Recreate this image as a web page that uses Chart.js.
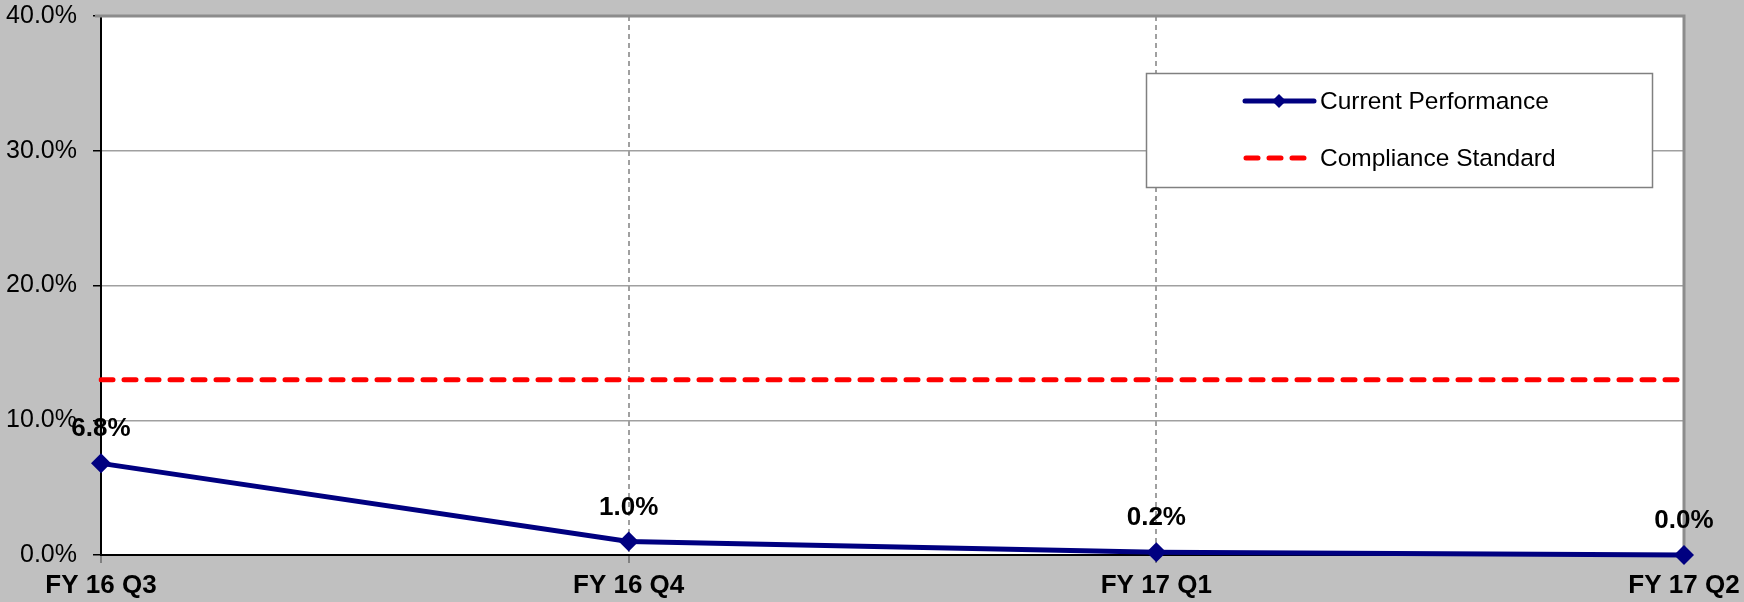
<!DOCTYPE html>
<html>
<head>
<meta charset="utf-8">
<script src="https://cdn.jsdelivr.net/npm/chart.js@4/dist/chart.umd.min.js"></script>
<style>
    html, body { margin: 0; padding: 0; background: #c0c0c0; }
    #wrap { width: 1744px; height: 602px; }
</style>
</head>
<body>
<div id="wrap"><canvas id="chart" width="1744" height="602"></canvas></div>
<script>
// 資料
const quarters = ['FY 16 Q3', 'FY 16 Q4', 'FY 17 Q1', 'FY 17 Q2'];
const currentPerformance = [6.8, 1.0, 0.2, 0.0];
const complianceStandard = [13.0, 13.0, 13.0, 13.0];
const yTicks = [0, 10, 20, 30, 40];

const seriesNames = ['Current Performance', 'Compliance Standard'];
const navy = '#000080';
const red = '#ff0000';

// 背景 (灰色外框、白色繪圖區)
const bgPlugin = {
    id: 'bg',
    beforeDraw: (chart) => {
        let ctx = chart.ctx;
        let a = chart.chartArea;
        ctx.save();
        ctx.fillStyle = '#c0c0c0';
        ctx.fillRect(0, 0, chart.width, chart.height);
        ctx.fillStyle = '#ffffff';
        ctx.fillRect(a.left, a.top, a.right - a.left, a.bottom - a.top);
        ctx.restore();
    },
    beforeDatasetsDraw: (chart) => {
        let ctx = chart.ctx;
        let a = chart.chartArea;
        ctx.save();
        ctx.strokeStyle = '#8c8c8c';
        ctx.lineWidth = 3;
        ctx.beginPath();
        ctx.moveTo(a.left - 6, a.top);
        ctx.lineTo(a.right, a.top);
        ctx.lineTo(a.right, a.bottom);
        ctx.stroke();
        ctx.restore();
    }
};

// 資料標籤
const labelPlugin = {
    id: 'valueLabels',
    afterDatasetsDraw: (chart) => {
        let ctx = chart.ctx;
        let meta = chart.getDatasetMeta(0);
        ctx.save();
        ctx.font = 'bold 26px "Liberation Sans", Arial, sans-serif';
        ctx.fillStyle = '#000';
        ctx.textAlign = 'center';
        ctx.textBaseline = 'alphabetic';
        meta.data.forEach((pt, i) => {
            ctx.fillText(currentPerformance[i].toFixed(1) + '%', pt.x, pt.y - 27);
        });
        ctx.restore();
    }
};

// 圖例 (Excel 樣式)
const legendPlugin = {
    id: 'boxLegend',
    afterDraw: (chart) => {
        let ctx = chart.ctx;
        let box = { x: 1146, y: 73, w: 506, h: 114 };
        ctx.save();
        ctx.fillStyle = '#ffffff';
        ctx.fillRect(box.x, box.y, box.w, box.h);
        ctx.strokeStyle = '#808080';
        ctx.lineWidth = 1.5;
        ctx.strokeRect(box.x + 0.5, box.y + 0.5, box.w, box.h);

        // Current Performance
        let y1 = 101;
        ctx.strokeStyle = navy;
        ctx.lineWidth = 5;
        ctx.lineCap = 'round';
        ctx.beginPath();
        ctx.moveTo(1245, y1);
        ctx.lineTo(1314, y1);
        ctx.stroke();
        ctx.fillStyle = navy;
        ctx.beginPath();
        ctx.moveTo(1279, y1 - 7);
        ctx.lineTo(1286, y1);
        ctx.lineTo(1279, y1 + 7);
        ctx.lineTo(1272, y1);
        ctx.closePath();
        ctx.fill();

        // Compliance Standard
        let y2 = 158;
        ctx.strokeStyle = red;
        ctx.setLineDash([12, 11]);
        ctx.beginPath();
        ctx.moveTo(1246, y2);
        ctx.lineTo(1306, y2);
        ctx.stroke();
        ctx.setLineDash([]);

        ctx.fillStyle = '#000';
        ctx.font = '24.5px "Liberation Sans", Arial, sans-serif';
        ctx.textAlign = 'left';
        ctx.textBaseline = 'middle';
        ctx.fillText(seriesNames[0], 1320, y1 + 1);
        ctx.fillText(seriesNames[1], 1320, y2 + 1);
        ctx.restore();
    }
};

let el = document.querySelector('#chart');
let chart = new Chart(el, {
    type: 'line',
    data: {
        labels: quarters,
        datasets: [
            {
                label: seriesNames[0],
                data: currentPerformance,
                borderColor: navy,
                backgroundColor: navy,
                borderWidth: 5,
                pointStyle: 'rectRot',
                pointRadius: 10,
                pointBorderWidth: 0,
                tension: 0,
                clip: false,
                order: 0
            },
            {
                label: seriesNames[1],
                data: complianceStandard,
                borderColor: red,
                backgroundColor: red,
                borderWidth: 5,
                borderDash: [12, 11],
                borderCapStyle: 'round',
                pointRadius: 0,
                tension: 0,
                order: 1
            }
        ]
    },
    options: {
        responsive: false,
        animation: false,
        layout: {
            padding: { top: 16, right: 60, left: 0, bottom: 0 }
        },
        plugins: {
            legend: { display: false },
            tooltip: { enabled: false }
        },
        scales: {
            x: {
                type: 'category',
                offset: false,
                afterFit: (scale) => {
                    scale.height = 47;
                    scale.paddingLeft = 0;
                    scale.paddingRight = 0;
                },
                grid: {
                    color: (c) => c.index === 0 ? 'rgba(0,0,0,0)' : '#a0a0a0',
                    lineWidth: 2,
                    tickColor: '#808080',
                    tickLength: 8,
                    tickWidth: 2
                },
                border: {
                    color: '#000',
                    width: 2,
                    dash: (c) => (c.index === undefined || c.index === 3) ? [] : [5, 4]
                },
                ticks: {
                    color: '#000',
                    padding: 7,
                    maxRotation: 0,
                    autoSkip: false,
                    font: { family: '"Liberation Sans", Arial, sans-serif', size: 26, weight: 'bold' }
                }
            },
            y: {
                min: 0,
                max: 40,
                afterFit: (scale) => {
                    scale.width = 101;
                    scale.paddingTop = 0;
                    scale.paddingBottom = 0;
                },
                afterBuildTicks: (scale) => {
                    scale.ticks = yTicks.map((v) => ({ value: v }));
                },
                grid: {
                    color: '#a0a0a0',
                    lineWidth: 1.5,
                    tickColor: '#000',
                    tickLength: 8,
                    tickWidth: 1.5
                },
                border: { color: '#000', width: 2 },
                ticks: {
                    color: '#000',
                    padding: 16,
                    callback: (v) => v.toFixed(1) + '%',
                    font: { family: '"Liberation Sans", Arial, sans-serif', size: 25 }
                }
            }
        }
    },
    plugins: [bgPlugin, labelPlugin, legendPlugin]
});
</script>
</body>
</html>
